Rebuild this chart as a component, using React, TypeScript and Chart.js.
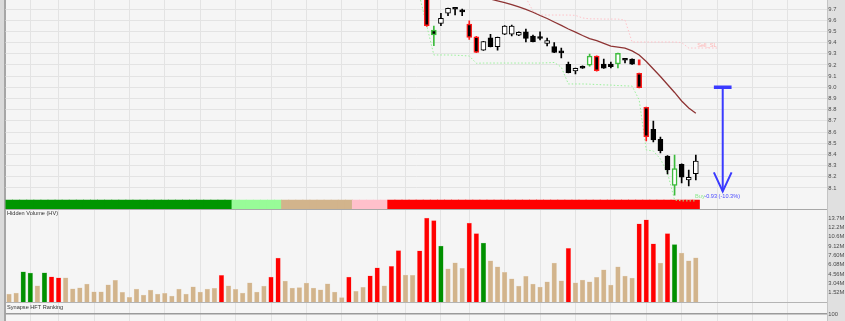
import React, { useEffect, useRef } from "react";
import { Chart, registerables } from "chart.js";

Chart.register(...registerables);

// ---------------- data ----------------
const volumeM = [
  1.3, 1.46, 4.92, 4.71, 2.65, 4.76, 4.11, 3.94, 3.94, 2.16,
  2.32, 2.92, 1.67, 1.67, 2.81, 3.52, 1.57, 0.76, 2.11, 1.14,
  1.95, 1.3, 1.41, 0.97, 2.11, 1.3, 2.48, 1.62, 2.11, 2.22,
  4.33, 2.65, 2.06, 1.46, 3.13, 1.62, 2.6, 4.06, 7.14, 3.41,
  2.27, 2.35, 3.08, 2.27, 2.0, 2.97, 1.62, 0.7, 4.06, 1.74,
  2.39, 4.27, 5.57, 2.65, 5.79, 8.39, 4.38, 4.33, 8.33, 13.68,
  13.26, 9.09, 5.4, 6.38, 5.47, 12.87, 11.15, 9.58, 6.7, 5.73,
  4.82, 3.78, 2.6, 4.17, 2.92, 2.43, 3.29, 6.33, 3.46, 8.72,
  3.13, 3.57, 3.29, 4.01, 5.24, 2.76, 5.73, 4.22, 3.89, 12.71,
  13.36, 9.46, 6.33, 11.15, 9.36, 7.95, 6.7, 7.19,
];
const greenVolumeBars = [2, 3, 5, 61, 67, 94];
const redVolumeBars = [6, 7, 30, 37, 38, 48, 51, 52, 54, 55, 58, 59, 60, 65, 66, 79, 89, 90, 91, 93];

const volumeTicks = [1.52, 3.04, 4.56, 6.08, 7.6, 9.12, 10.64, 12.16, 13.68];
const volumeTickLabels = ["1.52M", "3.04M", "4.56M", "6.08M", "7.60M", "9.12M", "10.6M", "12.2M", "13.7M"];

const priceTicks = [8.1, 8.2, 8.3, 8.4, 8.5, 8.6, 8.7, 8.8, 8.9, 9.0, 9.1, 9.2, 9.3, 9.4, 9.5, 9.6, 9.7];
const hftTicks = [100];

const statusStarts = [0, 32, 39, 49, 54];
const statusColors = ["#009600", "#98FB98", "#D2B48C", "#FFC0CB", "#FF0000"];

const candleStart = 59;
const opens = [
  9.98, 9.512, 9.572, 9.662, 9.7, 9.676, 9.566, 9.452, 9.333, 9.443,
  9.363, 9.474, 9.474, 9.465, 9.497, 9.459, 9.438, 9.393, 9.363, 9.31,
  9.206, 9.146, 9.188, 9.199, 9.28, 9.208, 9.208, 9.208, 9.244, 9.253,
  9.125, 8.821, 8.625, 8.535, 8.386, 8.124, 8.312, 8.172, 8.228,
];
const highs = [
  10.02, 9.548, 9.662, 9.708, 9.702, 9.7, 9.595, 9.455, 9.41, 9.474,
  9.45, 9.552, 9.557, 9.497, 9.521, 9.466, 9.497, 9.441, 9.399, 9.351,
  9.226, 9.172, 9.192, 9.298, 9.282, 9.253, 9.226, 9.306, 9.246, 9.255,
  9.127, 8.823, 8.699, 8.556, 8.39, 8.395, 8.315, 8.261, 8.395,
];
const lows = [
  9.545, 9.372, 9.551, 9.64, 9.646, 9.64, 9.429, 9.31, 9.33, 9.36,
  9.333, 9.47, 9.459, 9.462, 9.405, 9.405, 9.423, 9.369, 9.31, 9.262,
  9.128, 9.119, 9.168, 9.19, 9.145, 9.168, 9.173, 9.173, 9.217, 9.205,
  8.995, 8.52, 8.511, 8.413, 8.225, 8.037, 8.145, 8.118, 8.172,
];
const closes = [
  9.55, 9.468, 9.617, 9.706, 9.698, 9.674, 9.447, 9.313, 9.408, 9.363,
  9.447, 9.548, 9.548, 9.492, 9.438, 9.408, 9.436, 9.417, 9.313, 9.308,
  9.131, 9.17, 9.17, 9.28, 9.148, 9.17, 9.184, 9.304, 9.242, 9.206,
  8.997, 8.559, 8.529, 8.433, 8.261, 8.273, 8.196, 8.196, 8.341,
];
const candleOutline = [
  "r", "g", "k", "k", "k", "k", "r", "r", "k", "k",
  "k", "k", "k", "k", "k", "k", "k", "k", "k", "k",
  "k", "k", "k", "g", "r", "k", "k", "g", "k", "k",
  "r", "r", "k", "k", "k", "g", "k", "k", "k",
];

const signalMarkerBar = 89;
const signalMarkerRange = [9.2, 9.245];

const maStart = 67;
const maValues = [
  9.81, 9.789, 9.773, 9.758, 9.74, 9.718, 9.696, 9.671, 9.642, 9.615,
  9.584, 9.553, 9.521, 9.494, 9.463, 9.436, 9.418, 9.392, 9.369, 9.36,
  9.351, 9.325, 9.289, 9.231, 9.164, 9.097, 9.025, 8.954, 8.878, 8.815,
  8.768,
];

const buyStopStart = 58;
const buyStop = [
  9.81, 9.55, 9.289, 9.289, 9.289, 9.287, 9.284, 9.28, 9.215, 9.217,
  9.217, 9.217, 9.217, 9.217, 9.217, 9.217, 9.217, 9.217, 9.219, 9.222,
  9.18, 9.03, 9.03, 9.03, 9.028, 9.025, 9.022, 9.02, 9.016, 9.013,
  9.011, 8.887, 8.44, 8.431, 8.36, 8.235, 7.993, 7.985, 7.985, 7.985,
];

const sellStopStart = 73;
const sellStop = [
  9.8, 9.682, 9.646, 9.646, 9.646, 9.646, 9.646, 9.643, 9.62, 9.612,
  9.612, 9.61, 9.61, 9.61, 9.6, 9.405, 9.405, 9.405, 9.405, 9.405,
  9.405, 9.405, 9.4, 9.351, 9.351, 9.351, 9.351, 9.351,
];

const arrowBar = 100.8;
const arrowFrom = 9.0;
const arrowChange = -0.93;
const arrowHalfWidth = 1.25;
const arrowHeadLength = 0.17;

const priceTexts = [
  { text: "Sell_SL", x: 97.2, y: 9.378, color: "#FFB4B4" },
  { text: "Buy", x: 96.9, y: 8.022, color: "#8EE88E" },
  { text: "-0.93 (-10.3%)", x: 98.2, y: 8.022, color: "#4A4AFF" },
];

const gridBars = [3, 7, 12, 17, 22, 27, 32, 37, 42, 47, 52, 56, 61, 65, 70, 75, 80, 85, 90, 95, 100, 105, 110];

// ---------------- layout / style ----------------
const W = 845;
const PLOT_LEFT = 5.5;
const AXIS_W = 18.2;
const X_MIN = -0.5;
const X_MAX = 115.5;
const FONT = '"Liberation Sans", Arial, sans-serif';
const TICK_FONT = { family: FONT, size: 5.8 };
const TICK_COLOR = "#4a4a4a";
const GRID = "#E3E3E3";
const OUTLINE: Record<string, string> = { k: "#000000", r: "#FF1A1A", g: "#3DBB3D" };

function noPad(s: any) {
  s.paddingTop = 0;
  s.paddingBottom = 0;
  s.paddingLeft = 0;
  s.paddingRight = 0;
}

function xAxis() {
  return {
    type: "linear",
    min: X_MIN,
    max: X_MAX,
    offset: false,
    ticks: { display: false },
    grid: { color: GRID, lineWidth: 1, drawTicks: false, offset: false },
    border: { display: false },
    afterBuildTicks: (s: any) => {
      s.ticks = gridBars.map((v) => ({ value: v }));
    },
    afterFit: (s: any) => {
      s.height = 0;
      noPad(s);
    },
  };
}

function rightAxis(min: number, max: number, ticks: number[], fmt: (v: number) => string, gridOpts: any) {
  return {
    type: "linear",
    position: "right",
    min,
    max,
    ticks: { font: TICK_FONT, color: TICK_COLOR, padding: 1.5, callback: (v: any) => fmt(Number(v)) },
    grid: { drawTicks: false, ...gridOpts },
    border: { display: false },
    afterBuildTicks: (s: any) => {
      s.ticks = ticks.map((v) => ({ value: v }));
    },
    afterFit: (s: any) => {
      s.width = AXIS_W;
      noPad(s);
    },
  };
}

const baseOptions = {
  responsive: false,
  animation: false,
  devicePixelRatio: 1,
  layout: { padding: { left: PLOT_LEFT, right: 0, top: 0, bottom: 0 } },
  plugins: { legend: { display: false }, tooltip: { enabled: false } },
  events: [],
};

const textPlugin = {
  id: "priceTexts",
  afterDatasetsDraw(chart: any) {
    const { ctx, scales } = chart;
    ctx.save();
    ctx.font = `5.6px ${FONT}`;
    ctx.textBaseline = "middle";
    ctx.textAlign = "left";
    for (const t of priceTexts) {
      ctx.fillStyle = t.color;
      ctx.fillText(t.text, scales.x.getPixelForValue(t.x), scales.y.getPixelForValue(t.y));
    }
    ctx.restore();
  },
};

export default function App() {
  const priceRef = useRef<HTMLCanvasElement>(null);
  const volRef = useRef<HTMLCanvasElement>(null);
  const hftRef = useRef<HTMLCanvasElement>(null);

  useEffect(() => {
    const charts: Chart[] = [];

    // ---- price panel ----
    const idx = opens.map((_, i) => candleStart + i);
    const bodies = idx.map((x, i) => ({ x, y: [Math.min(opens[i], closes[i]), Math.max(opens[i], closes[i])] }));
    const wicks = idx.map((x, i) => ({ x, y: [lows[i], highs[i]] }));
    const bodyFill = idx.map((_, i) => (closes[i] > opens[i] ? "#FFFFFF" : "#000000"));
    const outline = candleOutline.map((c) => OUTLINE[c]);
    const statusData = volumeM.map((_, i) => ({ x: i, y: [0, 1] }));
    const statusFill = volumeM.map((_, i) => {
      let s = 0;
      statusStarts.forEach((st, k) => {
        if (i >= st) s = k;
      });
      return statusColors[s];
    });
    const arrowTo = arrowFrom + arrowChange;
    const blue = "#3A3AFF";
    const lineBase = { type: "line", pointRadius: 0, tension: 0, fill: false };
    const barBase = { type: "bar", grouped: false };

    charts.push(
      new Chart(priceRef.current as HTMLCanvasElement, {
        type: "bar",
        data: {
          datasets: [
            { ...lineBase, data: [{ x: arrowBar, y: arrowFrom }, { x: arrowBar, y: arrowTo }], borderColor: blue, borderWidth: 2 },
            { ...lineBase, data: [{ x: arrowBar - arrowHalfWidth, y: arrowFrom }, { x: arrowBar + arrowHalfWidth, y: arrowFrom }], borderColor: blue, borderWidth: 3.5 },
            {
              ...lineBase,
              data: [
                { x: arrowBar - arrowHalfWidth, y: arrowTo + arrowHeadLength },
                { x: arrowBar, y: arrowTo },
                { x: arrowBar + arrowHalfWidth, y: arrowTo + arrowHeadLength },
              ],
              borderColor: blue,
              borderWidth: 2,
            },
            {
              ...barBase,
              data: [{ x: signalMarkerBar, y: signalMarkerRange }],
              backgroundColor: "#FF2020",
              barThickness: 2,
              borderSkipped: false,
            },
            {
              ...barBase,
              data: bodies,
              backgroundColor: bodyFill,
              borderColor: outline,
              borderWidth: idx.map((_, i) => (candleOutline[i] === "k" ? 1 : 1.5)),
              borderSkipped: false,
              barThickness: 5,
              minBarLength: 2,
            },
            { ...barBase, data: wicks, backgroundColor: outline, barThickness: 1, borderWidth: 0 },
            {
              ...lineBase,
              data: maValues.map((y, i) => ({ x: maStart + i, y })),
              borderColor: "#8E3434",
              borderWidth: 1.3,
            },
            {
              ...lineBase,
              data: sellStop.map((y, i) => ({ x: sellStopStart + i, y })),
              borderColor: "#FFC2C8",
              borderWidth: 1,
              borderDash: [1.5, 2],
            },
            {
              ...lineBase,
              data: buyStop.map((y, i) => ({ x: buyStopStart + i, y })),
              borderColor: "#98F098",
              borderWidth: 1,
              borderDash: [1.5, 2],
            },
            {
              ...barBase,
              yAxisID: "yStatus",
              data: statusData,
              backgroundColor: statusFill,
              barThickness: 7.4,
              borderWidth: 0,
            },
          ],
        },
        options: {
          ...baseOptions,
          scales: {
            x: xAxis(),
            y: rightAxis(7.91229, 9.78045, priceTicks, (v) => v.toFixed(1), { color: GRID, lineWidth: 1 }),
            yStatus: { type: "linear", display: false, min: 0, max: 209 / 9 },
          },
        },
        plugins: [textPlugin],
      } as any)
    );

    // ---- volume panel ----
    const volColors = volumeM.map((_, i) =>
      greenVolumeBars.includes(i) ? "#009000" : redVolumeBars.includes(i) ? "#FF0000" : "#D2B48C"
    );
    const volBorders = volumeM.map((_, i) =>
      greenVolumeBars.includes(i) ? "#7CC47C" : redVolumeBars.includes(i) ? "#FF9A9A" : "#E6D3BA"
    );
    charts.push(
      new Chart(volRef.current as HTMLCanvasElement, {
        type: "bar",
        data: {
          datasets: [
            {
              data: volumeM.map((y, i) => ({ x: i, y })),
              backgroundColor: volColors,
              borderColor: volBorders,
              borderWidth: 0.5,
              borderSkipped: "start",
              barThickness: 4.6,
              grouped: false,
            },
          ],
        },
        options: {
          ...baseOptions,
          scales: {
            x: xAxis(),
            y: rightAxis(0, 14.98, volumeTicks, (v) => volumeTickLabels[volumeTicks.indexOf(v)] ?? "", { display: false }),
          },
        },
      } as any)
    );

    // ---- HFT ranking panel ----
    charts.push(
      new Chart(hftRef.current as HTMLCanvasElement, {
        type: "line",
        data: { datasets: [{ data: [], borderWidth: 0, pointRadius: 0 }] },
        options: {
          ...baseOptions,
          scales: {
            x: xAxis(),
            y: rightAxis(0, 112.36, hftTicks, (v) => String(v), { color: "#9A9A9A", lineWidth: 1.5 }),
          },
        },
      } as any)
    );

    return () => charts.forEach((c) => c.destroy());
  }, []);

  const plotRight = W - AXIS_W;
  const abs = (s: any) => ({ position: "absolute", ...s } as React.CSSProperties);
  const title = { fontFamily: FONT, fontSize: 5.6, color: "#333", whiteSpace: "nowrap", lineHeight: "7px" };

  return (
    <div style={abs({ position: "fixed", left: 0, top: 0, width: W, height: 321, overflow: "hidden", background: "#F5F5F5" })}>
      <div style={abs({ left: 0, top: 0, width: 4, height: 321, background: "#DADADA" })} />
      <div style={abs({ left: 4, top: 0, width: 1.5, height: 321, background: "#A6A6A6" })} />
      <div style={abs({ left: plotRight, top: 0, width: AXIS_W, height: 321, background: "#E0E0E0", boxShadow: "inset 1px 0 0 #C4C4C4" })} />
      <canvas ref={priceRef} width={W} height={209} style={abs({ left: 0, top: 0 })} />
      <div style={abs({ left: PLOT_LEFT, top: 209, width: plotRight - PLOT_LEFT, height: 1.2, background: "#A8A8A8" })} />
      <canvas ref={volRef} width={W} height={92} style={abs({ left: 0, top: 210 })} />
      <div style={abs({ left: PLOT_LEFT, top: 302, width: plotRight - PLOT_LEFT, height: 1, background: "#B4B4B4" })} />
      <canvas ref={hftRef} width={W} height={100} style={abs({ left: 0, top: 303 })} />
      <div style={abs({ left: 7, top: 210, ...title })}>Hidden Volume (HV)</div>
      <div style={abs({ left: 7, top: 303.5, ...title })}>Synapse HFT Ranking</div>
    </div>
  );
}
